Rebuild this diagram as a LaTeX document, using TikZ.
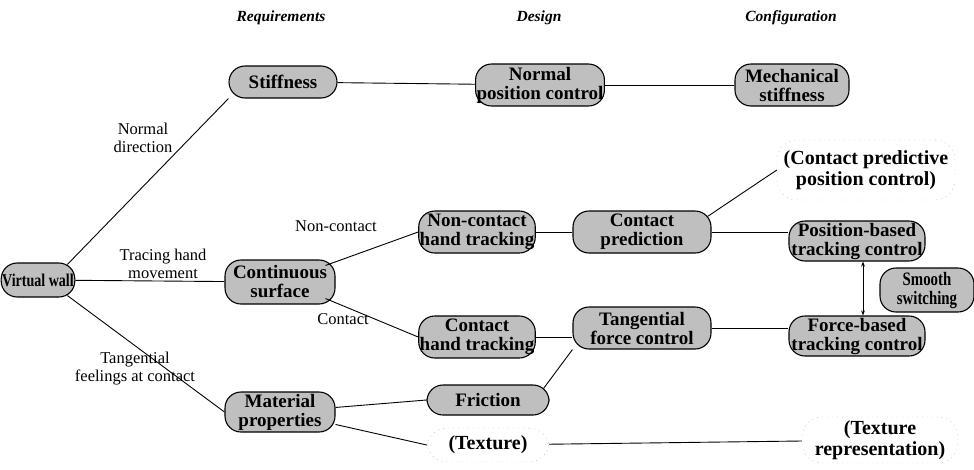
\documentclass[tikz,border=0pt]{standalone}
\usepackage{fontspec}
\setmainfont{Liberation Serif}
\newfontfamily\condfont{Liberation Serif}[FakeStretch=0.78]
\usetikzlibrary{arrows.meta}
\begin{document}
\begin{tikzpicture}[x=1pt,y=-1pt,
  box/.style={draw=black,line width=1.1pt,fill=gray!50,rounded corners=16pt,
    font=\fontsize{19}{19}\selectfont\bfseries,align=center,inner sep=1pt,text=black},
  ghost/.style={draw=gray!60,dash pattern=on 1pt off 4pt,rounded corners=20pt,
    font=\fontsize{20}{21}\selectfont\bfseries,align=center,inner sep=1pt},
  lab/.style={font=\fontsize{16.5}{18}\selectfont,align=center},
  head/.style={font=\fontsize{15.5}{17}\selectfont\bfseries\itshape},
  conn/.style={line width=0.9pt}]
\useasboundingbox (0,0) rectangle (974,469);
% headers
\node[head] (h1) at (281,18) {Requirements};
\node[head] (h2) at (539,18) {Design};
\node[head] (h3) at (791,18) {Configuration};
% nodes
\node[box,font=\condfont\fontsize{18}{18}\selectfont\bfseries,minimum width=68pt,minimum height=34pt] (vw) at (38,280) {Virtual wall};
\node[box,minimum width=108pt,minimum height=32pt] (st) at (283,82) {Stiffness};
\node[box,minimum width=120pt,minimum height=42pt] (npc) at (540,85) {Normal\\position control};
\node[box,minimum width=114pt,minimum height=42pt] (ms) at (792,85) {Mechanical\\stiffness};
\node[ghost,minimum width=178pt,minimum height=60pt] (cpp) at (866,170) {(Contact predictive\\position control)};
\node[box,minimum width=136pt,minimum height=40pt] (pbt) at (857,241) {Position-based\\tracking control};
\node[box,font=\condfont\fontsize{19}{19}\selectfont\bfseries,minimum width=94pt,minimum height=44pt] (ss) at (927,290) {Smooth\\switching};
\node[box,minimum width=136pt,minimum height=40pt] (fbt) at (857,336) {Force-based\\tracking control};
\node[box,minimum width=104pt,minimum height=42pt] (nht) at (477,232) {Non-contact\\hand tracking};
\node[box,minimum width=138pt,minimum height=42pt] (cp) at (642,232) {Contact\\prediction};
\node[box,minimum width=110pt,minimum height=44pt] (cs) at (280,282) {Continuous\\surface};
\node[box,minimum width=104pt,minimum height=42pt] (cht) at (477,337) {Contact\\hand tracking};
\node[box,minimum width=138pt,minimum height=42pt] (tfc) at (642,328) {Tangential\\force control};
\node[box,minimum width=110pt,minimum height=40pt] (mp) at (280,412) {Material\\properties};
\node[box,minimum width=122pt,minimum height=30pt] (fr) at (488,400) {Friction};
\node[ghost,minimum width=122pt,minimum height=34pt] (tx) at (488,445) {(Texture)};
\node[ghost,minimum width=156pt,minimum height=46pt] (txr) at (880,440) {(Texture\\representation)};
% connectors
\draw[conn] (vw.north east) ++(-8,2) coordinate (a1) -- (st.south west);
\draw[conn] (vw) -- (cs);
\draw[conn] (vw.south east) ++(-8,-2) coordinate (a2) -- (mp.west);
\draw[conn] (st) -- (npc);
\draw[conn] (npc) -- (ms);
\draw[conn] (cs.north east) ++(-10,6) coordinate (a3) -- (nht.west);
\draw[conn] (cs.south east) ++(-10,-6) coordinate (a4) -- (cht.west);
\draw[conn] (nht) -- (cp);
\draw[conn] (cp) -- (pbt.west |- cp);
\draw[conn] (cp.north east) ++(-4,6) coordinate (a5) -- (cpp.west);
\draw[conn] (cht) -- (tfc.west |- cht);
\draw[conn] (tfc) -- (fbt.west |- tfc);
\draw[conn,{Stealth[length=5pt]}-{Stealth[length=5pt]}] ([xshift=6pt]pbt.south) -- ([xshift=6pt]fbt.north);
\draw[conn] (mp) -- (fr.west);
\draw[conn] (mp) -- (tx.west);
\draw[conn] (fr.north east) ++(-6,4) coordinate (a6) -- (tfc.south west);
\draw[conn] (tx) -- (txr);
% edge labels
\node[lab] (l1) at (143,138) {Normal\\direction};
\node[lab] (l2) at (163,264) {Tracing hand\\movement};
\node[lab] (l3) at (336,226) {Non-contact};
\node[lab] (l4) at (343,319) {Contact};
\node[lab] (l5) at (135,369) {Tangential\\feelings at contact};
\end{tikzpicture}
\end{document}
